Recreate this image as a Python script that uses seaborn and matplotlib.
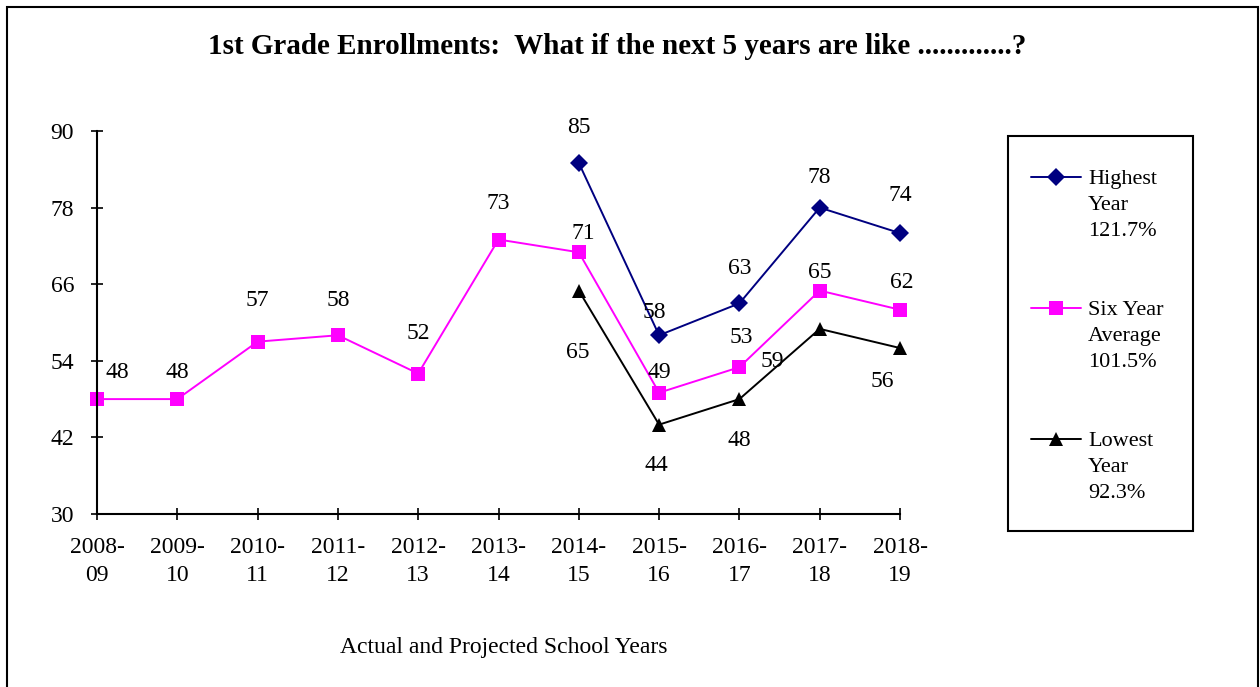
import seaborn as sns
import matplotlib.pyplot as plt
from matplotlib.lines import Line2D
from matplotlib.patches import Rectangle

# data
years = ["2008-\n09", "2009-\n10", "2010-\n11", "2011-\n12", "2012-\n13", "2013-\n14",
         "2014-\n15", "2015-\n16", "2016-\n17", "2017-\n18", "2018-\n19"]
six_year = [48, 48, 57, 58, 52, 73, 71, 49, 53, 65, 62]
highest = [85, 58, 63, 78, 74]
lowest = [65, 44, 48, 59, 56]
proj_start = 6  # projections start at 2014-15

# label offsets in pixels (dx, dy), style only
six_off = [(20, -27), (0, -27), (0, -41), (0, -35), (0, -40), (0, -36),
           (5, -19), (0, -20), (2, -30), (0, -18), (2, -27)]
high_off = [(0, -35), (-5, -23), (0, -35), (0, -30), (0, -38)]
low_off = [(-1, 62), (-3, 41), (0, 41), (-47, 33), (-18, 33)]

sns.set_style("white")
plt.rcParams["font.family"] = ["Liberation Serif", "DejaVu Serif"]
plt.rcParams["text.color"] = "black"
plt.rcParams["xtick.color"] = "black"
plt.rcParams["ytick.color"] = "black"

W, H = 1260, 687
fig = plt.figure(figsize=(W / 100, H / 100), dpi=100)
ax = fig.add_axes([97 / W, 1 - 514 / H, (900 - 97) / W, (514 - 131) / H])

x_all = list(range(len(years)))
x_proj = x_all[proj_start:]

sns.lineplot(x=x_all, y=six_year, ax=ax, color="#FF00FF", marker="s", markersize=10,
             markeredgewidth=0, linewidth=1.4, clip_on=False)
sns.lineplot(x=x_proj, y=highest, ax=ax, color="#000080", marker="D", markersize=9.5,
             markeredgewidth=0, linewidth=1.4, clip_on=False)
sns.lineplot(x=x_proj, y=lowest, ax=ax, color="black", marker="^", markersize=10.5,
             markeredgewidth=0, linewidth=1.4, clip_on=False)

px = 72 / 100  # pixels -> points


def labels(xs, ys, offs):
    for xv, yv, (dx, dy) in zip(xs, ys, offs):
        ax.annotate(str(yv), (xv, yv), xytext=(dx * px, -dy * px), textcoords="offset points",
                    ha="center", va="center", fontsize=17, annotation_clip=False)


labels(x_all, six_year, six_off)
labels(x_proj, highest, high_off)
labels(x_proj, lowest, low_off)

ax.set_xlim(0, len(years) - 1)
ax.set_ylim(30, 90)
ax.set_yticks([30, 42, 54, 66, 78, 90])
ax.set_xticks(x_all)
ax.set_xticklabels(years, fontsize=17, linespacing=1.45)
ax.tick_params(axis="y", labelsize=17, direction="inout", length=9, width=1.2, pad=12, left=True)
ax.tick_params(axis="x", direction="inout", length=9, width=1.2, pad=12, bottom=True)
for s in ["top", "right"]:
    ax.spines[s].set_visible(False)
for s in ["left", "bottom"]:
    ax.spines[s].set_linewidth(1.5)
    ax.spines[s].set_color("black")

fig.text(617 / W, 1 - 47 / H, "1st Grade Enrollments:  What if the next 5 years are like .............?",
         ha="center", va="center", fontsize=21, fontweight="bold")
fig.text(504 / W, 1 - 648 / H, "Actual and Projected School Years", ha="center", va="center", fontsize=17)

# outer chart border
fig.patches.append(Rectangle((7 / W, -0.01), (1251 / W), 1 - 7 / H + 0.01, transform=fig.transFigure,
                             fill=False, edgecolor="black", linewidth=1.5))

# legend box
fig.patches.append(Rectangle((1008 / W, 1 - 531 / H), 185 / W, 395 / H, transform=fig.transFigure,
                             fill=False, edgecolor="black", linewidth=1.5))
entries = [("#000080", "D", 9.5, "Highest\nYear\n121.7%", 177),
           ("#FF00FF", "s", 10, "Six Year\nAverage\n101.5%", 308),
           ("black", "^", 10.5, "Lowest\nYear\n92.3%", 439)]
for color, m, ms, text, yp in entries:
    fig.lines.append(Line2D([1031 / W, 1081 / W], [1 - yp / H] * 2, transform=fig.transFigure,
                            color=color, linewidth=1.4))
    fig.lines.append(Line2D([1056 / W], [1 - yp / H], transform=fig.transFigure, color=color,
                            marker=m, markersize=ms, markeredgewidth=0))
    fig.text(1088 / W, 1 - (yp - 7) / H, text, ha="left", va="top", fontsize=16, linespacing=1.5)

fig.savefig("out.png", dpi=100)
